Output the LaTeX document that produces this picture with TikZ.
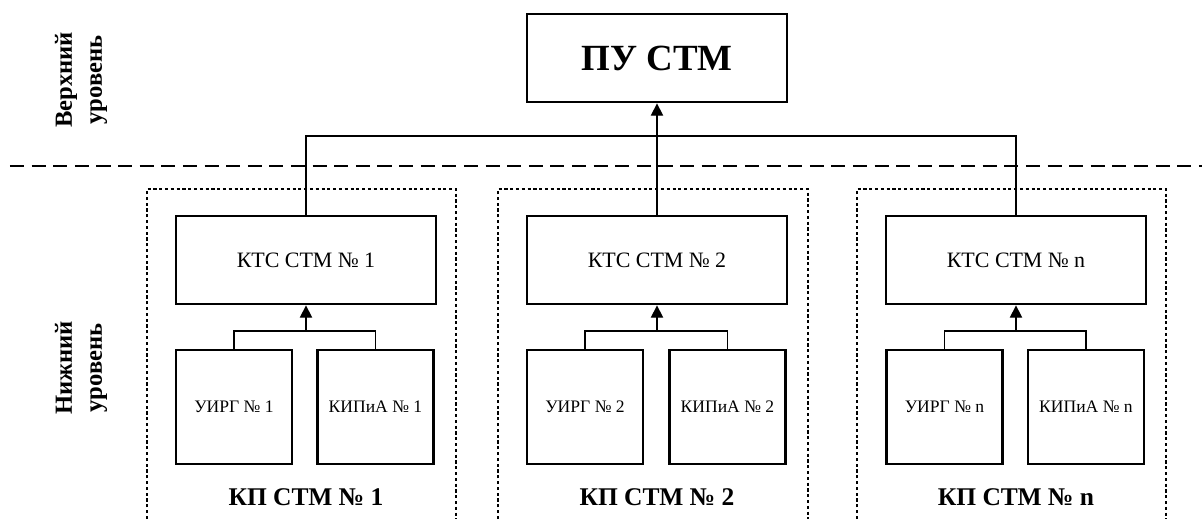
\documentclass[tikz,border=0pt]{standalone}
\usepackage{fontspec}
\setmainfont{Liberation Serif}
\usetikzlibrary{arrows.meta}

\begin{document}
\begin{tikzpicture}[
    blok/.style={draw, line width=1.6pt, minimum width=5.2cm, minimum height=1.76cm, font=\fontsize{12.5}{14}\selectfont},
    malyblok/.style={draw, line width=1.6pt, minimum width=2.32cm, minimum height=2.28cm, font=\fontsize{10}{12}\selectfont},
    spoj/.style={line width=0.8pt},
    sipka/.style={spoj, -{Triangle[length=7pt,width=7pt]}},
    ramec/.style={line width=1.4pt, dash pattern=on 1.8pt off 1.5pt},
    nazov/.style={anchor=base, font=\fontsize{14.5}{17}\selectfont\bfseries},
    uroven/.style={rotate=90, align=center, font=\fontsize{14}{17}\selectfont\bfseries}]
      \useasboundingbox (0,0) rectangle (24.04,10.38);
      % urovne
      \node[uroven] (verh) at (1.62,8.78) {Верхний\\уровень};
      \node[uroven] (niz) at (1.62,3.02) {Нижний\\уровень};
      \draw[spoj, dash pattern=on 8pt off 4.3pt] (0.2,7.06) -- (24.04,7.06);
      % PU STM
      \node[blok, font=\fontsize{21}{25}\selectfont\bfseries] (pu) at (13.14,9.22) {ПУ СТМ};
      % KP STM 1
      \draw[ramec] (2.94,0) -- (2.94,6.6) -- (9.12,6.6) -- (9.12,0);
      \node[blok] (kts1) at (6.12,5.18) {КТС СТМ № 1};
      \node[malyblok] (uirg1) at (4.68,2.24) {УИРГ № 1};
      \node[malyblok] (kipia1) at (7.51,2.24) {КИПиА № 1};
      \node[nazov] (kp1) at (6.12,0.28) {КП СТМ № 1};
      % KP STM 2
      \draw[ramec] (9.96,0) -- (9.96,6.6) -- (16.16,6.6) -- (16.16,0);
      \node[blok] (kts2) at (13.14,5.18) {КТС СТМ № 2};
      \node[malyblok] (uirg2) at (11.7,2.24) {УИРГ № 2};
      \node[malyblok] (kipia2) at (14.55,2.24) {КИПиА № 2};
      \node[nazov] (kp2) at (13.14,0.28) {КП СТМ № 2};
      % KP STM n
      \draw[ramec] (17.14,0) -- (17.14,6.6) -- (23.32,6.6) -- (23.32,0);
      \node[blok] (kts3) at (20.32,5.18) {КТС СТМ № n};
      \node[malyblok] (uirg3) at (18.89,2.24) {УИРГ № n};
      \node[malyblok] (kipia3) at (21.72,2.24) {КИПиА № n};
      \node[nazov] (kp3) at (20.32,0.28) {КП СТМ № n};
      % spoje
      \coordinate (shina) at (6.12,7.66);
      \draw[spoj] (kts1.north) -- (shina) -| (kts3.north);
      \draw[sipka] (kts2) -- (pu);
      \coordinate (j1) at (6.12,3.76);
      \coordinate (j2) at (13.14,3.76);
      \coordinate (j3) at (20.32,3.76);
      \draw[spoj] (uirg1.north) |- (j1) -| (kipia1.north);
      \draw[spoj] (uirg2.north) |- (j2) -| (kipia2.north);
      \draw[spoj] (uirg3.north) |- (j3) -| (kipia3.north);
      \draw[sipka] (j1) -- (kts1);
      \draw[sipka] (j2) -- (kts2);
      \draw[sipka] (j3) -- (kts3);
\end{tikzpicture}
\end{document}
